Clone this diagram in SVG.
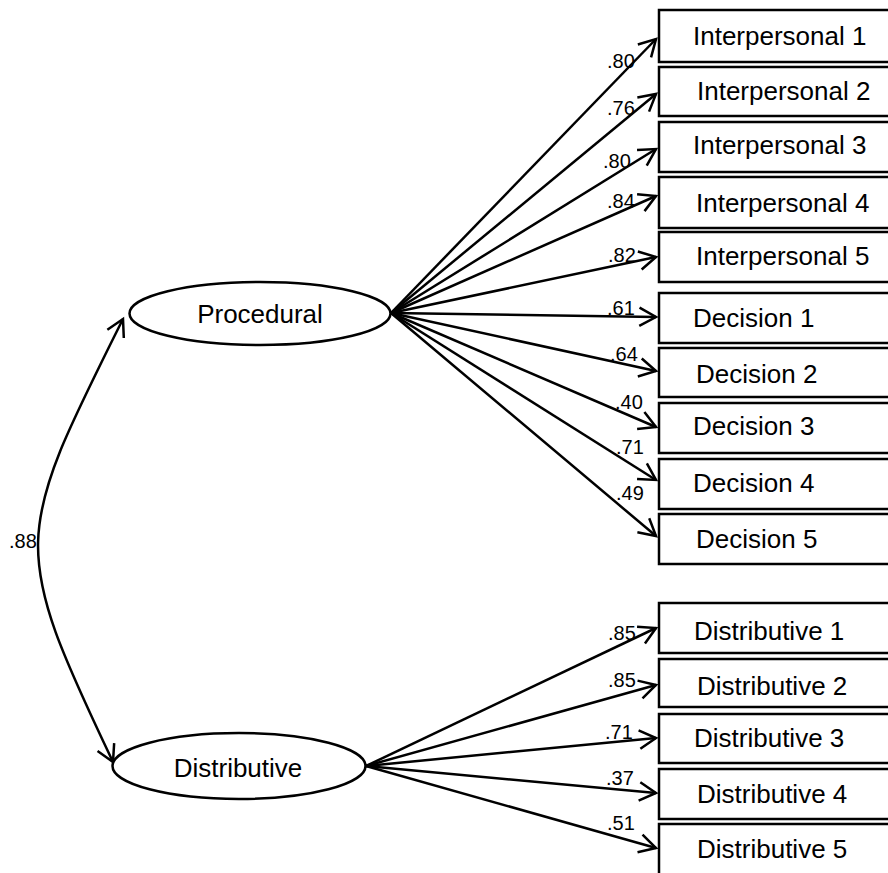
<svg xmlns="http://www.w3.org/2000/svg" width="888" height="873" viewBox="0 0 888 873">
<style>
.box{fill:#fff;stroke:#000;stroke-width:2.5}
.ell{fill:#fff;stroke:#000;stroke-width:2.5}
.t{font-family:"Liberation Sans",Arial,sans-serif;font-size:26px;fill:#000}
.lb{font-family:"Liberation Sans",Arial,sans-serif;font-size:20px;fill:#000}
.c{fill:none;stroke:#000;stroke-width:2.5;marker-end:url(#ah)}
</style>
<defs>
<marker id="ah" markerUnits="userSpaceOnUse" viewBox="-20 -12 24 24" refX="0" refY="0" markerWidth="24" markerHeight="24" orient="auto-start-reverse">
<path d="M-16.6,-9.2 L0,0 L-16.6,9.2" fill="none" stroke="#000" stroke-width="2.5" stroke-linejoin="miter"/>
</marker>
</defs>
<rect width="888" height="873" fill="#fff"/>
<g id="connectors">
<path class="c" d="M123,319 C14,537 9,544 113,762" marker-start="url(#ah)"/>
<line class="c" x1="391" y1="313" x2="656" y2="39"/>
<line class="c" x1="391" y1="313" x2="656" y2="94"/>
<line class="c" x1="391" y1="313" x2="656" y2="149"/>
<line class="c" x1="391" y1="313" x2="656" y2="196"/>
<line class="c" x1="391" y1="313" x2="656" y2="257"/>
<line class="c" x1="391" y1="313" x2="656" y2="317"/>
<line class="c" x1="391" y1="313" x2="656" y2="371"/>
<line class="c" x1="391" y1="313" x2="656" y2="427"/>
<line class="c" x1="391" y1="313" x2="656" y2="480"/>
<line class="c" x1="391" y1="313" x2="656" y2="536"/>
<line class="c" x1="366" y1="766" x2="656" y2="628"/>
<line class="c" x1="366" y1="766" x2="656" y2="685"/>
<line class="c" x1="366" y1="766" x2="656" y2="738"/>
<line class="c" x1="366" y1="766" x2="656" y2="793"/>
<line class="c" x1="366" y1="766" x2="656" y2="848"/>
</g>
<g id="labels">
<text class="lb" x="9" y="548">.88</text>
<text class="lb" x="607" y="68">.80</text>
<text class="lb" x="607" y="115">.76</text>
<text class="lb" x="603" y="168">.80</text>
<text class="lb" x="607" y="208">.84</text>
<text class="lb" x="608" y="262">.82</text>
<text class="lb" x="607" y="315">.61</text>
<text class="lb" x="610" y="361">.64</text>
<text class="lb" x="615" y="409">.40</text>
<text class="lb" x="616" y="454">.71</text>
<text class="lb" x="616" y="500">.49</text>
<text class="lb" x="608" y="640">.85</text>
<text class="lb" x="608" y="687">.85</text>
<text class="lb" x="605" y="739">.71</text>
<text class="lb" x="606" y="785">.37</text>
<text class="lb" x="607" y="830">.51</text>
</g>
<g id="procedural"><ellipse class="ell" cx="260" cy="313.5" rx="130.5" ry="31.5"/><text class="t" x="260" y="323" text-anchor="middle">Procedural</text></g>
<g id="distributive"><ellipse class="ell" cx="239" cy="766" rx="126.5" ry="33"/><text class="t" x="238" y="777" text-anchor="middle">Distributive</text></g>
<g id="int1"><rect class="box" x="659" y="10" width="260" height="52"/><text class="t" x="693" y="45">Interpersonal 1</text></g>
<g id="int2"><rect class="box" x="659" y="67" width="260" height="49"/><text class="t" x="697" y="100">Interpersonal 2</text></g>
<g id="int3"><rect class="box" x="659" y="122" width="260" height="50"/><text class="t" x="693" y="154">Interpersonal 3</text></g>
<g id="int4"><rect class="box" x="659" y="177" width="260" height="51"/><text class="t" x="696" y="212">Interpersonal 4</text></g>
<g id="int5"><rect class="box" x="659" y="232" width="260" height="50"/><text class="t" x="696" y="265">Interpersonal 5</text></g>
<g id="dec1"><rect class="box" x="659" y="293" width="260" height="50"/><text class="t" x="693" y="327">Decision 1</text></g>
<g id="dec2"><rect class="box" x="659" y="348" width="260" height="49"/><text class="t" x="696" y="383">Decision 2</text></g>
<g id="dec3"><rect class="box" x="659" y="403" width="260" height="50"/><text class="t" x="693" y="435">Decision 3</text></g>
<g id="dec4"><rect class="box" x="659" y="459" width="260" height="50"/><text class="t" x="693" y="492">Decision 4</text></g>
<g id="dec5"><rect class="box" x="659" y="514" width="260" height="50"/><text class="t" x="696" y="548">Decision 5</text></g>
<g id="dist1"><rect class="box" x="659" y="603" width="260" height="50"/><text class="t" x="694" y="640">Distributive 1</text></g>
<g id="dist2"><rect class="box" x="659" y="659" width="260" height="48"/><text class="t" x="697" y="695">Distributive 2</text></g>
<g id="dist3"><rect class="box" x="659" y="714" width="260" height="49"/><text class="t" x="694" y="747">Distributive 3</text></g>
<g id="dist4"><rect class="box" x="659" y="769" width="260" height="50"/><text class="t" x="697" y="803">Distributive 4</text></g>
<g id="dist5"><rect class="box" x="659" y="824" width="260" height="60"/><text class="t" x="697" y="858">Distributive 5</text></g>
</svg>
